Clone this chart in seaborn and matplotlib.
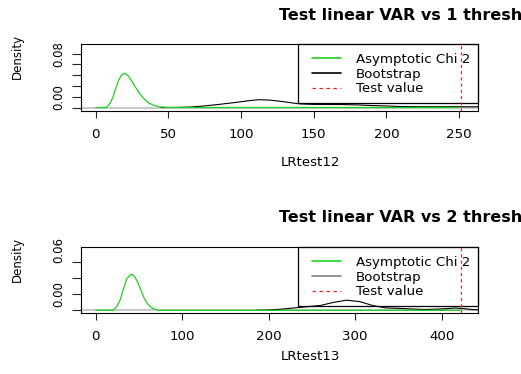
import matplotlib
matplotlib.use("Agg")
import matplotlib.pyplot as plt
import seaborn as sns
import pandas as pd
from matplotlib.lines import Line2D
from matplotlib.patches import Rectangle

# ---------------- data ----------------
# Panel 1 : LRtest12
chi12_x = [0, 5, 7.5, 10, 12, 14, 16, 18, 20, 22, 24, 26, 28, 30, 33, 36, 40, 44, 50, 250]
chi12_y = [0, 0, 0.0005, 0.008, 0.02, 0.037, 0.052, 0.061, 0.0635, 0.06, 0.053, 0.044, 0.035,
           0.027, 0.017, 0.009, 0.004, 0.0012, 0, 0]
boot12_x = [45, 55, 65, 75, 85, 95, 105, 112, 120, 130, 140, 150, 160, 170, 180, 190, 200,
            210, 220, 230, 240, 250, 263]
boot12_y = [0, 0.0001, 0.0008, 0.003, 0.0058, 0.009, 0.0125, 0.0145, 0.0137, 0.0105, 0.0068,
            0.0058, 0.0056, 0.0055, 0.0048, 0.0036, 0.0028, 0.0018, 0.0015, 0.0014, 0.0014,
            0.0015, 0.0013]
test12 = 251

# Panel 2 : LRtest13
chi13_x = [0, 20, 24, 28, 32, 36, 40, 42, 44, 48, 52, 56, 60, 65, 72, 423]
chi13_y = [0, 0, 0.004, 0.012, 0.026, 0.039, 0.0438, 0.0442, 0.043, 0.036, 0.026, 0.015,
           0.008, 0.003, 0, 0]
boot13_x = [185, 200, 215, 230, 245, 260, 275, 290, 305, 320, 335, 350, 365, 380, 395, 405,
            415, 425, 435, 442]
boot13_y = [0, 0.0004, 0.0015, 0.003, 0.0045, 0.006, 0.0098, 0.0125, 0.0108, 0.006, 0.003,
            0.0024, 0.0017, 0.001, 0.0015, 0.002, 0.0028, 0.0022, 0.001, 0.0006]
test13 = 422

# titles as visible in the reference (cut at the right edge there)
titles = ["Test linear VAR vs 1 thresh", "Test linear VAR vs 2 thresh"]
xlabels = ["LRtest12", "LRtest13"]
ylabel = "Density"
legend_labels = ["Asymptotic Chi 2", "Bootstrap", "Test value"]

xticks12 = [0, 50, 100, 150, 200, 250]
xticks13 = [0, 100, 200, 300, 400]
yticks12 = [0, 0.02, 0.04, 0.06, 0.08, 0.10]
yticklabels12 = ["", "0.00", "", "", "", "0.08"]
yticks13 = [0, 0.02, 0.04, 0.06]
yticklabels13 = ["", "0.00", "", ""]
ylabel13_extra_pos = [0.074]
ylabel13_extra = ["0.06"]

# ---------------- figure ----------------
sns.set_style("white")
plt.rcParams["font.family"] = ["DejaVu Sans"]
plt.rcParams["text.color"] = "black"
plt.rcParams["xtick.color"] = "black"
plt.rcParams["ytick.color"] = "black"
plt.rcParams["axes.labelcolor"] = "black"

W, H = 521, 374
fig = plt.figure(figsize=(W / 100, H / 100), dpi=100)

GREEN = "#1ed01e"
RED = "#ff1a1a"
DASH = (0, (2.8, 2.8))


def px_axes(l, t, r, b):
    return fig.add_axes([l / W, 1 - b / H, (r - l) / W, (b - t) / H])


def panel(box, xlim, ylim, chi_x, chi_y, boot_x, boot_y, test, xticks, yticks, yticklabels,
          title, xlabel, title_y, xlabel_y, ylabel_y, leg_top_px, leg_bottom_px, boot_leg_col):
    ax = px_axes(*box)
    l, t, r, b = box
    ax.axhline(0, color="#c4c4c4", lw=1.3, zorder=1)
    sns.lineplot(x=boot_x, y=boot_y, ax=ax, color="black", lw=0.8, sort=False,
                 estimator=None, zorder=3)
    sns.lineplot(x=chi_x, y=chi_y, ax=ax, color=GREEN, lw=0.9, sort=False,
                 estimator=None, zorder=4)
    ax.axvline(test, color=RED, lw=0.8, ls=DASH, zorder=6)
    ax.set_xlim(*xlim)
    ax.set_ylim(*ylim)
    ax.set_xticks(xticks)
    ax.set_xticklabels([str(v) for v in xticks])
    ax.set_yticks(yticks)
    ax.set_yticklabels(yticklabels)
    ax.tick_params(axis="x", direction="out", length=5, width=0.8, color="#222222",
                   labelsize=9.6, pad=7, bottom=True, labelcolor="black")
    ax.tick_params(axis="y", direction="out", length=6.5, width=0.8, color="#222222",
                   labelsize=8.5, pad=5, left=True, labelrotation=90, labelcolor="black")
    for lab in ax.get_yticklabels():
        lab.set_va("center")
    for s in ax.spines.values():
        s.set_color("black")
        s.set_linewidth(0.8)
    ax.set_xlabel("")
    ax.set_ylabel("")

    # legend box (R style, transparent)
    x0 = (298 - l) / (r - l)
    y0 = 1 - (leg_bottom_px - t) / (b - t)
    ax.add_patch(Rectangle((x0, y0), 1 - x0, 1 - y0, transform=ax.transAxes,
                           facecolor="none", edgecolor="black", lw=0.9, zorder=5,
                           clip_on=False))
    handles = [Line2D([], [], color=GREEN, lw=1.2),
               Line2D([], [], color=boot_leg_col, lw=1.2),
               Line2D([], [], color=RED, lw=0.9, ls=DASH)]
    leg = ax.legend(handles, legend_labels, loc="upper left",
                    bbox_to_anchor=((312 - l) / (r - l), 1 - (leg_top_px - t) / (b - t)),
                    frameon=False, borderpad=0, borderaxespad=0, fontsize=9.6,
                    handlelength=2.18, handletextpad=1.13, labelspacing=0.12)
    for tx in leg.get_texts():
        tx.set_color("black")

    fig.text(279 / W, 1 - title_y / H, title, ha="left", va="center", fontsize=11.5,
             fontweight="bold", color="black")
    fig.text(310 / W, 1 - xlabel_y / H, xlabel, ha="center", va="center", fontsize=9.6,
             color="black")
    fig.text(17.3 / W, 1 - ylabel_y / H, ylabel, ha="center", va="center", fontsize=8.5,
             rotation=90, color="black")
    return ax


ax1 = panel((81, 44, 478, 111), (-10.1, 263), (-0.0065, 0.118), chi12_x, chi12_y,
            boot12_x, boot12_y, test12, xticks12, yticks12, yticklabels12,
            titles[0], xlabels[0], 15.7, 163, 56.5, 53.0, 102.7, "black")

ax2 = panel((81, 247, 478, 313), (-17, 442), (-0.0033, 0.078), chi13_x, chi13_y,
            boot13_x, boot13_y, test13, xticks13, yticks13, yticklabels13,
            titles[1], xlabels[1], 218, 356.7, 259, 256.0, 306, "#808080")
ax2.set_yticks(ylabel13_extra_pos, minor=True)
ax2.set_yticklabels(ylabel13_extra, minor=True, rotation=90, va="center", fontsize=8.5,
                    color="black")
ax2.tick_params(axis="y", which="minor", length=0, pad=11.5, left=True)

fig.savefig("out.png", dpi=100)
